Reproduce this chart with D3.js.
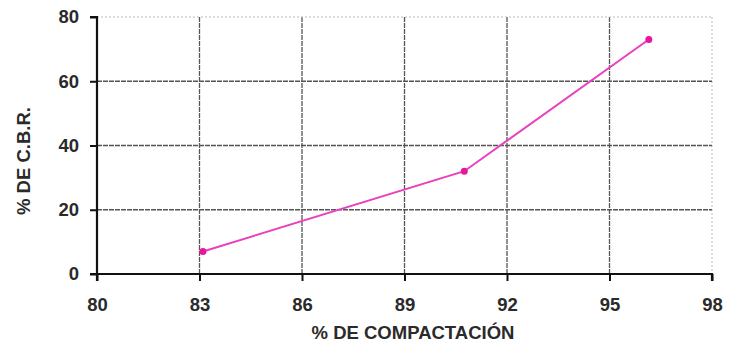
<!DOCTYPE html>
<html><head><meta charset="utf-8">
<script src="https://cdn.jsdelivr.net/npm/d3@7"></script>
<style>body{margin:0;background:#fff}svg{display:block}text{font-family:"Liberation Sans",Arial,sans-serif;fill:#2a2a2a}</style>
</head><body>
<script>
const compaction = [83.1, 90.75, 96.15];
const cbr = [7, 32, 73];
const xTicks = [80, 83, 86, 89, 92, 95, 98];
const yTicks = [0, 20, 40, 60, 80];
const xTitle = "% DE COMPACTACIÓN";
const yTitle = "% DE C.B.R.";

const W = 730, H = 345;
const svg = d3.select("body").append("svg").attr("width", W).attr("height", H);
const x = d3.scaleLinear().domain([80, 98]).range([97, 712]);
const y = d3.scaleLinear().domain([0, 80]).range([274, 17]);

// grid
const g = svg.append("g");
g.selectAll(".vg").data(xTicks.filter(d => d > 80)).enter().append("line")
  .attr("x1", d => x(d)).attr("x2", d => x(d)).attr("y1", y(80)).attr("y2", y(0))
  .attr("stroke", d => d === 98 ? "#bbb" : "#555").attr("stroke-width", d => d === 98 ? 1 : 1.3)
  .attr("stroke-dasharray", d => d === 98 ? "2,2" : "5,1");
g.selectAll(".hg").data(yTicks.filter(d => d > 0)).enter().append("line")
  .attr("x1", x(80)).attr("x2", x(98)).attr("y1", d => y(d)).attr("y2", d => y(d))
  .attr("stroke", d => d === 80 ? "#bbb" : "#555").attr("stroke-width", d => d === 80 ? 1 : 1.3)
  .attr("stroke-dasharray", d => d === 80 ? "2,2" : "5,1");

// axes
const xAxis = svg.append("g").attr("transform", `translate(0,${y(0)})`)
  .call(d3.axisBottom(x).tickValues(xTicks).tickSize(7).tickPadding(17));
const yAxis = svg.append("g").attr("transform", `translate(${x(80)},0)`)
  .call(d3.axisLeft(y).tickValues(yTicks).tickSize(7).tickPadding(11));
[xAxis, yAxis].forEach(a => {
  a.select(".domain").attr("stroke", "#111").attr("stroke-width", 2.2);
  a.selectAll(".tick line").attr("stroke", "#111").attr("stroke-width", 2);
  a.selectAll(".tick text").attr("font-size", 18.5).attr("font-weight", "bold")
    .attr("font-family", "Liberation Sans, Arial, sans-serif").attr("fill", "#2a2a2a");
});
xAxis.select(".domain").attr("d", `M${x(80)},7V0H${x(98)}V7`);
yAxis.select(".domain").attr("d", `M-7,${y(80)}H0V${y(0)}H-7`);

// line
const pts = compaction.map((c, i) => [c, cbr[i]]);
svg.append("path").datum(pts)
  .attr("d", d3.line().x(d => x(d[0])).y(d => y(d[1])))
  .attr("fill", "none").attr("stroke", "#ea3fbf").attr("stroke-width", 2);
svg.selectAll(".pt").data(pts).enter().append("circle")
  .attr("cx", d => x(d[0])).attr("cy", d => y(d[1])).attr("r", 3.5).attr("fill", "#e8169a");

// titles
svg.append("text").attr("x", 413).attr("y", 339).attr("text-anchor", "middle")
  .attr("font-size", 18.5).attr("font-weight", "bold").text(xTitle);
svg.append("text").attr("transform", `translate(30,161) rotate(-90)`).attr("text-anchor", "middle")
  .attr("font-size", 18.5).attr("font-weight", "bold").text(yTitle);
</script>
</body></html>
